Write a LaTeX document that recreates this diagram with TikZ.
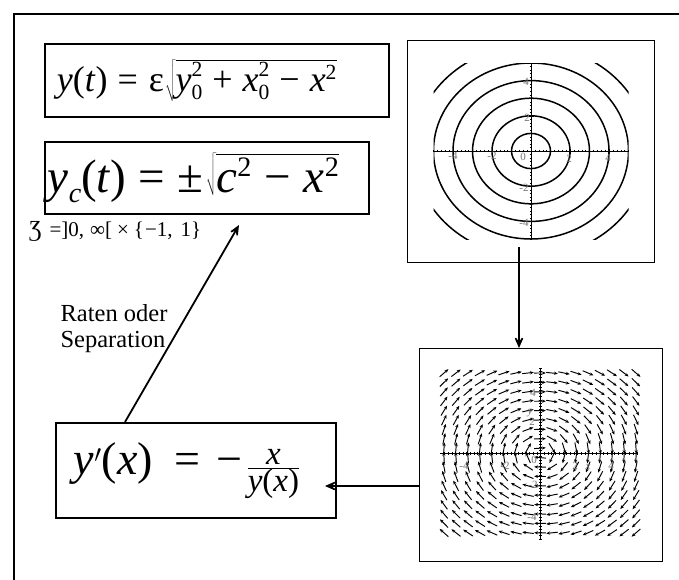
\documentclass[tikz,border=0pt]{standalone}
\usepackage{graphicx}
\usepackage{fontspec}
\setmainfont{Liberation Serif}
\newcommand\supsub[2]{\makebox[0pt][l]{\raisebox{0.4em}{\scalebox{0.6}{#1}}}\raisebox{-0.22em}{\scalebox{0.6}{#2}}}
\newcommand\sups[1]{\raisebox{0.34em}{\scalebox{0.6}{#1}}}
\newcommand\subs[1]{\raisebox{-0.22em}{\scalebox{0.6}{#1}}}
\usetikzlibrary{arrows.meta,calc}
\tikzset{
  eqbox/.style={draw, line width=1.8pt, inner ysep=0pt, align=left, anchor=north west},
  plotbox/.style={draw, line width=0.9pt, inner sep=0pt, anchor=north west},
  conn/.style={line width=1.8pt, -{Stealth[length=17pt,width=15pt,inset=11pt]}},
  contour/.style={line width=1.5pt},
  axisline/.style={line width=0.6pt},
  minortick/.style={line width=0.35pt},
  ticklab/.style={font=\fontsize{11}{12}\selectfont, text=black!55, inner sep=0pt},
  fieldarrow/.style={line width=0.95pt, -{Stealth[length=3.8pt,width=3.2pt]}},
}
\begin{document}
\begin{tikzpicture}[x=1pt,y=-1pt]
\clip (0,0) rectangle (679,579);
% outer frame (right and bottom edges lie outside the picture)
\draw[line width=2pt] (14,14) rectangle (720,620);

% equations
\node[eqbox, minimum height=73pt, inner xsep=12pt, text width=320pt,
      font=\fontsize{36}{40}\selectfont] (eq1) at (44,43)
  {\textit{y}(\textit{t})\hspace{10pt}=\hspace{11pt}ε\hspace{1pt}$\sqrt{\hbox{\textit{y}\supsub{2}{0}\hspace{10pt}+\hspace{10pt}\textit{x}\supsub{2}{0}\hspace{10pt}−\hspace{10pt}\textit{x}\sups{2}}}$};
\node[eqbox, minimum height=72pt, inner xsep=3pt, text width=318pt,
      font=\fontsize{47}{52}\selectfont] (eq2) at (44,141)
  {\textit{y}\subs{\textit{c}}(\textit{t})\hspace{12pt}=\hspace{12pt}±\hspace{3pt}$\sqrt{\hbox{\textit{c}\sups{2}\hspace{13pt}−\hspace{13pt}\textit{x}\sups{2}}}$};
\node[eqbox, minimum height=95pt, inner xsep=18pt, text width=244pt,
      font=\fontsize{46}{52}\selectfont] (eq3) at (55,422)
  {$\hbox{\textit{y}}'$(\textit{x})\hspace{22pt}=\hspace{16pt}−\hspace{4pt}$\frac{\hbox{\fontsize{33}{36}\selectfont\textit{x}}}{\hbox{\fontsize{33}{36}\selectfont\textit{y}(\textit{x})}}$};

\node[font=\fontsize{21}{22}\selectfont, anchor=west, inner sep=0pt] (dom) at (29,231)
  {{\fontsize{23}{24}\selectfont Ʒ}\hspace{8pt}=]0,\hspace{6pt}∞[\hspace{5pt}×\hspace{5pt}\{\hspace{1pt}−1,\hspace{8pt}1\}};
\node[font=\fontsize{24.5}{26}\selectfont, align=left, inner sep=0pt] (lab) at (114,329)
  {Raten oder\\Separation};

% plot boxes
\node[plotbox, minimum width=247pt, minimum height=222pt] (plot1) at (407,40) {};
\node[plotbox, minimum width=243pt, minimum height=213pt] (plot2) at (419,348) {};

% contour plot
\begin{scope}
  \clip (433.5,63) rectangle (628.5,239);
  \foreach \r in {1,...,6}
    \draw[contour] (531,151) ellipse [x radius=19.5*\r, y radius=17.6*\r];
\end{scope}
\draw[axisline] (433.5,151) -- (628.5,151);
\draw[axisline] (531,63) -- (531,239);
\foreach \k in {-25,...,25}{
  \draw[minortick] (531+19.5*\k/5,149.8) -- (531+19.5*\k/5,152.2);
  \draw[minortick] (529.8,151+17.6*\k/5) -- (532.2,151+17.6*\k/5);
}
\foreach \k in {-4,-2,2,4}{
  \draw[axisline] (531+19.5*\k,148.5) -- (531+19.5*\k,153.5);
  \draw[axisline] (528.5,151+17.6*\k) -- (533.5,151+17.6*\k);
}
\node[ticklab] (c1) at (453,156) {-4};
\node[ticklab] (c2) at (492,156) {-2};
\node[ticklab] (c3) at (523,157) {0};
\node[ticklab] (c4) at (569,159) {2};
\node[ticklab] (c5) at (608,158) {4};
\node[ticklab] (c6) at (526,82) {4};
\node[ticklab] (c7) at (527,118) {2};
\node[ticklab] (c8) at (524,188) {-2};
\node[ticklab] (c9) at (524,223) {-4};

% direction field
\foreach \i in {0,...,16}{
  \foreach \j in {0,...,17}{
    \pgfmathsetmacro\fpx{444+12*\i}
    \pgfmathsetmacro\fpy{373+9.4*\j}
    \pgfmathsetmacro\fu{(\fpx-540.5)/18.5}
    \pgfmathsetmacro\fv{(453.5-\fpy)/15.8}
    \pgfmathsetmacro\fdx{\fv*1.85}
    \pgfmathsetmacro\fdy{\fu*1.58}
    \pgfmathsetmacro\fn{sqrt(\fdx*\fdx+\fdy*\fdy)}
    \pgfmathsetmacro\fax{\fpx-5.8*\fdx/\fn}
    \pgfmathsetmacro\fay{\fpy-5.8*\fdy/\fn}
    \pgfmathsetmacro\fbx{\fpx+5.8*\fdx/\fn}
    \pgfmathsetmacro\fby{\fpy+5.8*\fdy/\fn}
    \draw[fieldarrow] (\fax,\fay) -- (\fbx,\fby);
  }
}
\draw[axisline] (440,453.5) -- (637,453.5);
\draw[axisline] (540.5,369) -- (540.5,539);
\foreach \k in {-26,...,26}{
  \draw[minortick] (540.5+18.5*\k/5,452.3) -- (540.5+18.5*\k/5,454.7);
}
\foreach \k in {-27,...,27}{
  \draw[minortick] (539.3,453.5+15.8*\k/5) -- (541.7,453.5+15.8*\k/5);
}
\node[ticklab] (f1) at (464,466) {-4};
\node[ticklab] (f2) at (505,466) {-2};
\node[ticklab] (f3) at (534,460) {0};
\node[ticklab] (f4) at (575,466) {2};
\node[ticklab] (f5) at (611,466) {4};
\node[ticklab] (f6) at (588,467) {\itshape x};
\node[ticklab] (f7) at (533,393) {4};
\node[ticklab] (f8) at (530,413) {\itshape y};
\node[ticklab] (f9) at (532,422) {2};
\node[ticklab] (f10) at (533,485) {-2};
\node[ticklab] (f11) at (532,517) {-4};

% connectors
\coordinate (a1s) at (519,247);
\draw[conn] (a1s) -- (a1s |- plot2.north);
\coordinate (a2e) at (325,486);
\draw[conn] (a2e -| plot2.west) -- (a2e);
\coordinate (a3s) at (125,422);
\coordinate (a3e) at (239,225);
\draw[conn] (a3s |- eq3.north) -- (a3e);
\end{tikzpicture}
\end{document}
